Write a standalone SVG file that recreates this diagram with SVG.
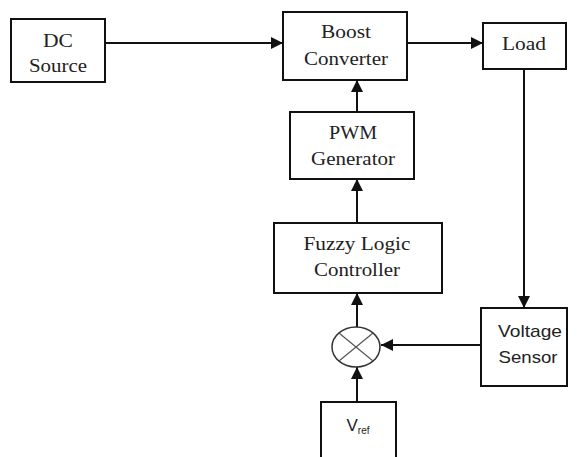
<svg xmlns="http://www.w3.org/2000/svg" width="577" height="457" viewBox="0 0 577 457">
<style>
.box{fill:#fff;stroke:#111;stroke-width:2}
.ser{font-family:'Liberation Serif','DejaVu Serif',serif;font-size:19px;fill:#222;text-anchor:middle}
.san{font-family:'Liberation Sans','DejaVu Sans',sans-serif;font-size:17px;fill:#222;text-anchor:middle}
.ln{stroke:#111;stroke-width:2;fill:none}
</style>
<defs>
<marker id="ah" viewBox="0 0 10 10" refX="10" refY="5" markerWidth="6" markerHeight="6" orient="auto" markerUnits="strokeWidth">
<path d="M0,0 L10,5 L0,10 z" fill="#111"/>
</marker>
</defs>
<rect width="577" height="457" fill="#fff"/>
<g id="connectors">
<line class="ln" x1="105" y1="43" x2="283" y2="43" marker-end="url(#ah)"/>
<line class="ln" x1="407" y1="43" x2="483" y2="43" marker-end="url(#ah)"/>
<line class="ln" x1="357" y1="112" x2="357" y2="80" marker-end="url(#ah)"/>
<line class="ln" x1="357" y1="223" x2="357" y2="179" marker-end="url(#ah)"/>
<line class="ln" x1="357" y1="327" x2="357" y2="293" marker-end="url(#ah)"/>
<line class="ln" x1="524" y1="69" x2="524" y2="308" marker-end="url(#ah)"/>
<line class="ln" x1="481" y1="345" x2="381" y2="345" marker-end="url(#ah)"/>
<line class="ln" x1="357" y1="402" x2="357" y2="367" marker-end="url(#ah)"/>
</g>
<g id="dc-source">
<rect class="box" x="11" y="19" width="94" height="63"/>
<text class="ser" x="58" y="47" textLength="30" lengthAdjust="spacingAndGlyphs">DC</text>
<text class="ser" x="58" y="72" textLength="58" lengthAdjust="spacingAndGlyphs">Source</text>
</g>
<g id="boost-converter">
<rect class="box" x="283" y="12" width="124" height="68"/>
<text class="ser" x="346" y="38" textLength="50" lengthAdjust="spacingAndGlyphs">Boost</text>
<text class="ser" x="346" y="65" textLength="84" lengthAdjust="spacingAndGlyphs">Converter</text>
</g>
<g id="load">
<rect class="box" x="483" y="23" width="83" height="46"/>
<text class="ser" x="524" y="50" textLength="44" lengthAdjust="spacingAndGlyphs">Load</text>
</g>
<g id="pwm-generator">
<rect class="box" x="290" y="112" width="124" height="67"/>
<text class="ser" x="353" y="139" textLength="48" lengthAdjust="spacingAndGlyphs">PWM</text>
<text class="ser" x="353" y="165" textLength="84" lengthAdjust="spacingAndGlyphs">Generator</text>
</g>
<g id="fuzzy-logic-controller">
<rect class="box" x="274" y="223" width="168" height="70"/>
<text class="ser" x="357" y="250" textLength="107" lengthAdjust="spacingAndGlyphs">Fuzzy Logic</text>
<text class="ser" x="357" y="276" textLength="86" lengthAdjust="spacingAndGlyphs">Controller</text>
</g>
<g id="summing-junction">
<ellipse cx="356" cy="347" rx="24" ry="20" fill="#fff" stroke="#333" stroke-width="1.5"/>
<line x1="339" y1="333" x2="373" y2="361" stroke="#555" stroke-width="1.2"/>
<line x1="373" y1="333" x2="339" y2="361" stroke="#555" stroke-width="1.2"/>
</g>
<g id="voltage-sensor">
<rect class="box" x="481" y="308" width="86" height="78"/>
<text class="san" x="530" y="337" textLength="64" lengthAdjust="spacingAndGlyphs">Voltage</text>
<text class="san" x="528" y="363" textLength="59" lengthAdjust="spacingAndGlyphs">Sensor</text>
</g>
<g id="vref">
<rect class="box" x="321" y="402" width="75" height="60"/>
<text class="san" x="358" y="431">V<tspan font-size="10" dy="3">ref</tspan></text>
</g>
</svg>
